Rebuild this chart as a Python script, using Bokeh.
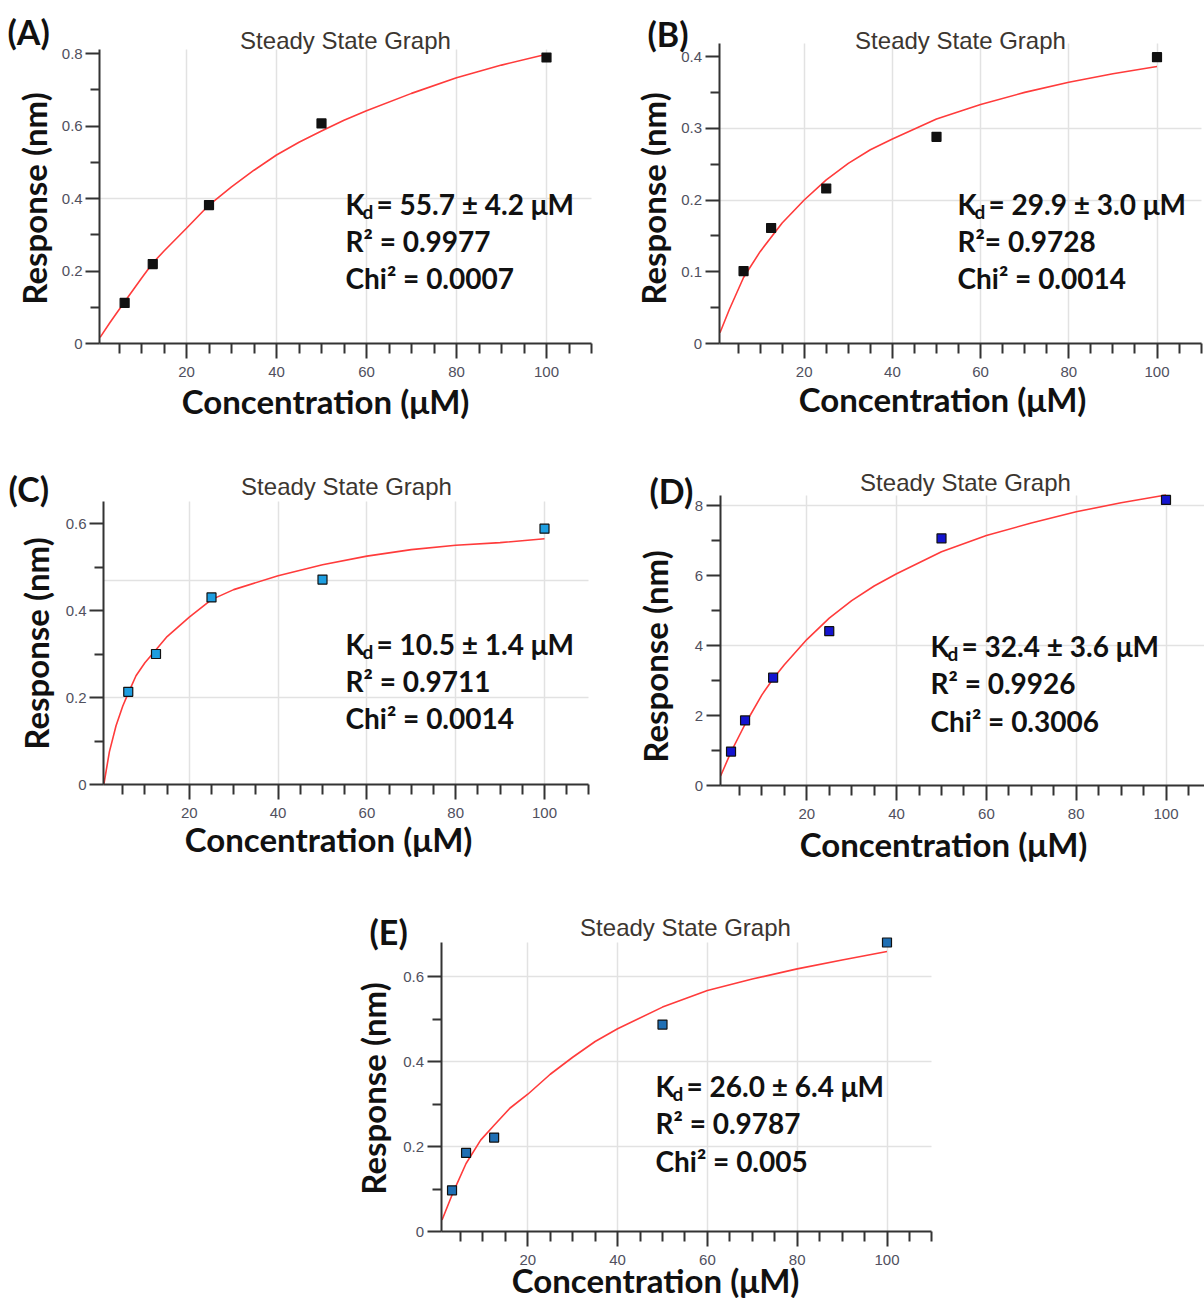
import math
from bokeh.plotting import figure
from bokeh.models import Range1d, FixedTicker, Label, Spacer, NumeralTickFormatter
from bokeh.layouts import row, column
from bokeh.embed import file_html
from bokeh.resources import INLINE

# ---------------- data ----------------
conc_a = [6.25, 12.5, 25, 50, 100]
resp_a = [0.112, 0.219, 0.382, 0.607, 0.789]
fit_x_a = [0.8, 3, 6.25, 10, 12.5, 15, 20, 25, 30, 35, 40, 45, 50, 55, 60, 70, 80, 90, 100]
fit_y_a = [0.017, 0.058, 0.115, 0.18, 0.222, 0.255, 0.318, 0.382, 0.432, 0.478, 0.52, 0.555, 0.586, 0.616, 0.642, 0.69, 0.733, 0.768, 0.798]

conc_b = [6.25, 12.5, 25, 50, 100]
resp_b = [0.101, 0.161, 0.216, 0.288, 0.399]
fit_x_b = [0.9, 3, 6.25, 10, 15, 20, 25, 30, 35, 40, 50, 60, 70, 80, 90, 100]
fit_y_b = [0.015, 0.047, 0.092, 0.128, 0.168, 0.200, 0.228, 0.251, 0.27, 0.285, 0.313, 0.333, 0.350, 0.364, 0.376, 0.386]

conc_c = [6.25, 12.5, 25, 50, 100]
resp_c = [0.213, 0.300, 0.430, 0.471, 0.588]
fit_x_c = [0.75, 2, 3.5, 5, 6.25, 8, 10, 12.5, 15, 20, 25, 30, 40, 50, 60, 70, 80, 90, 100]
fit_y_c = [0.0, 0.075, 0.135, 0.18, 0.21, 0.25, 0.28, 0.31, 0.34, 0.385, 0.425, 0.448, 0.48, 0.505, 0.525, 0.54, 0.55, 0.556, 0.565]

conc_d = [3.125, 6.25, 12.5, 25, 50, 100]
resp_d = [0.97, 1.86, 3.08, 4.41, 7.06, 8.16]
fit_x_d = [0.8, 3.125, 6.25, 10, 12.5, 15, 20, 25, 30, 35, 40, 50, 60, 70, 80, 90, 100]
fit_y_d = [0.27, 0.96, 1.75, 2.59, 3.05, 3.45, 4.17, 4.78, 5.28, 5.7, 6.05, 6.68, 7.14, 7.5, 7.82, 8.08, 8.30]

conc_e = [3.125, 6.25, 12.5, 50, 100]
resp_e = [0.097, 0.185, 0.221, 0.487, 0.680]
fit_x_e = [0.9, 3.125, 6.25, 9.5, 12.5, 16, 20, 25, 30, 35, 40, 50, 60, 70, 80, 90, 100]
fit_y_e = [0.027, 0.086, 0.16, 0.215, 0.25, 0.29, 0.323, 0.37, 0.41, 0.447, 0.477, 0.528, 0.567, 0.594, 0.618, 0.639, 0.659]

x_major = [20, 40, 60, 80, 100]
x_minor = [5, 10, 15, 25, 30, 35, 45, 50, 55, 65, 70, 75, 85, 90, 95, 105, 110]

letters = ["(A)", "(B)", "(C)", "(D)", "(E)"]
kd_texts = ["= 55.7 \u00b1 4.2 \u03bcM", "= 29.9 \u00b1 3.0 \u03bcM", "= 10.5 \u00b1 1.4 \u03bcM",
            "= 32.4 \u00b1 3.6 \u03bcM", "= 26.0 \u00b1 6.4 \u03bcM"]
r2_texts = ["R\u00b2 = 0.9977", "R\u00b2= 0.9728", "R\u00b2 = 0.9711", "R\u00b2 = 0.9926", "R\u00b2 = 0.9787"]
chi_texts = ["Chi\u00b2 = 0.0007", "Chi\u00b2 = 0.0014", "Chi\u00b2 = 0.0014", "Chi\u00b2 = 0.3006", "Chi\u00b2 = 0.005"]

TITLE = "Steady State Graph"
XLAB = "Concentration (\u03bcM)"
YLAB = "Response (nm)"

BOLD = "Lato"
AX = "#333333"
GRID = "#e2e2e2"


def panel(cfg, cx, cy, fx, fy, k):
    w, h = cfg["w"], cfg["h"]
    x0, xs, y0, ys = cfg["x0"], cfg["xs"], cfg["y0"], cfg["ys"]
    ytop, xend = cfg["ytop"], 110
    p = figure(width=w, height=h, title=None,
               x_range=Range1d(-x0 / xs, (w - x0) / xs),
               y_range=Range1d(-(h - y0) / ys, y0 / ys),
               min_border=0, min_border_left=0, min_border_right=0,
               min_border_top=0, min_border_bottom=0,
               output_backend="svg", toolbar_location=None)
    p.outline_line_color = None
    p.background_fill_color = "white"
    p.border_fill_color = "white"

    p.xaxis.fixed_location = 0
    p.yaxis.fixed_location = 0.7
    p.xaxis.bounds = (0.7, xend)
    p.yaxis.bounds = (0, ytop)
    p.xaxis.ticker = FixedTicker(ticks=x_major, minor_ticks=x_minor)
    p.yaxis.ticker = FixedTicker(ticks=cfg["y_major"], minor_ticks=cfg["y_minor"])
    p.yaxis.formatter = NumeralTickFormatter(format="0.[0]")
    p.xaxis.formatter = NumeralTickFormatter(format="0")
    for ax in (p.xaxis, p.yaxis):
        ax.axis_line_color = AX
        ax.axis_line_width = 2
        ax.major_tick_line_color = AX
        ax.minor_tick_line_color = AX
        ax.major_tick_line_width = 2
        ax.minor_tick_line_width = 2
        ax.major_tick_in = 0
        ax.minor_tick_in = 0
        ax.major_label_text_font = "Liberation Sans"
        ax.major_label_text_font_size = "15px"
        ax.major_label_text_color = "#50505e"
    p.xaxis.major_tick_out = 15
    p.xaxis.minor_tick_out = 10
    p.xaxis.major_label_standoff = 8
    p.yaxis.major_tick_out = 14
    p.yaxis.minor_tick_out = 9
    p.yaxis.major_label_standoff = 3

    xg = p.xgrid[0]
    yg = p.ygrid[0]
    if "cross_bounds" in xg.properties():
        xg.ticker = FixedTicker(ticks=x_major)
        yg.ticker = FixedTicker(ticks=cfg["ygrid"])
        xg.cross_bounds = (0, ytop)
        yg.cross_bounds = (0.7, xend)
        for g in (xg, yg):
            g.grid_line_color = GRID
            g.grid_line_width = 1.5
    else:
        xg.visible = False
        yg.visible = False
        p.segment(x0=x_major, y0=[0] * len(x_major), x1=x_major, y1=[ytop] * len(x_major),
                  line_color=GRID, line_width=1.5)
        gy = cfg["ygrid"]
        p.segment(x0=[0.7] * len(gy), y0=gy, x1=[xend] * len(gy), y1=gy,
                  line_color=GRID, line_width=1.5)

    p.line(fx, fy, line_color="#ff3b3b", line_width=1.6)
    p.scatter(cx, cy, marker="square", size=9, fill_color=cfg["fill"],
              line_color="#111111", line_width=1.2)

    def lab(x, ytop_px, text, size, font=BOLD, style="bold", align="left",
            color="#111111", angle=0.0):
        p.add_layout(Label(x=x, y=h - ytop_px, x_units="screen", y_units="screen", text=text,
                           text_font=font, text_font_style=style, text_font_size=f"{size}px",
                           text_align=align, text_baseline="middle", text_color=color,
                           angle=angle))

    t = cfg["lab"]
    lab(t["title"][0], t["title"][1], TITLE, 24, font="Liberation Sans", style="normal",
        align="center", color="#3c3630")
    lab(t["letter"][0], t["letter"][1], letters[k], 34)
    lab(t["ylab"][0], t["ylab"][1], YLAB, 33, align="center", angle=math.pi / 2)
    lab(t["xlab"][0], t["xlab"][1], XLAB, 33, align="center")
    ax_, yy = t["ann"]
    lab(ax_, yy[0], "K", 28)
    lab(ax_ + 17, yy[0] + 8, "d", 19)
    lab(ax_ + 31, yy[0], kd_texts[k], 28)
    lab(ax_, yy[1], r2_texts[k], 28)
    lab(ax_, yy[2], chi_texts[k], 28)
    return p


cfg_a = dict(w=600, h=445, x0=96, xs=4.5, y0=343, ys=362.5, ytop=0.81,
             y_major=[0, 0.2, 0.4, 0.6, 0.8], y_minor=[0.1, 0.3, 0.5, 0.7], ygrid=[0.4],
             fill="#111111",
             lab=dict(title=(345, 40), letter=(7, 31), ylab=(33, 198), xlab=(325, 400),
                      ann=(345, (203, 240, 277))))
cfg_b = dict(w=604, h=445, x0=115.5, xs=4.41, y0=343, ys=717.5, ytop=0.418,
             y_major=[0, 0.1, 0.2, 0.3, 0.4], y_minor=[0.05, 0.15, 0.25, 0.35], ygrid=[0.2, 0.3],
             fill="#111111",
             lab=dict(title=(360, 40), letter=(47, 33), ylab=(52, 198), xlab=(342, 398),
                      ann=(357, (203, 240, 277))))
cfg_c = dict(w=600, h=440, x0=100, xs=4.44, y0=339, ys=435, ytop=0.65,
             y_major=[0, 0.2, 0.4, 0.6], y_minor=[0.1, 0.3, 0.5], ygrid=[0.2, 0.47],
             fill="#1e9ee0",
             lab=dict(title=(346, 41), letter=(8, 43), ylab=(35, 198), xlab=(328, 393),
                      ann=(345, (198, 235, 272))))
cfg_d = dict(w=604, h=440, x0=116.5, xs=4.49, y0=340, ys=35, ytop=8.28,
             y_major=[0, 2, 4, 6, 8], y_minor=[1, 3, 5, 7], ygrid=[4, 8],
             fill="#1414d0",
             lab=dict(title=(365, 37), letter=(49, 45), ylab=(54, 211), xlab=(343, 398),
                      ann=(330, (200, 237, 275))))
cfg_e = dict(w=600, h=413, x0=97.5, xs=4.49, y0=346, ys=425, ytop=0.68,
             y_major=[0, 0.2, 0.4, 0.6], y_minor=[0.1, 0.3, 0.5], ygrid=[0.2, 0.4, 0.6],
             fill="#1f6fb4",
             lab=dict(title=(345, 42), letter=(29, 46), ylab=(32, 203), xlab=(315, 394),
                      ann=(315, (200, 237, 275))))

pa = panel(cfg_a, conc_a, resp_a, fit_x_a, fit_y_a, 0)
pb = panel(cfg_b, conc_b, resp_b, fit_x_b, fit_y_b, 1)
pc = panel(cfg_c, conc_c, resp_c, fit_x_c, fit_y_c, 2)
pd_ = panel(cfg_d, conc_d, resp_d, fit_x_d, fit_y_d, 3)
pe = panel(cfg_e, conc_e, resp_e, fit_x_e, fit_y_e, 4)

layout = column(row(pa, pb), row(pc, pd_), row(Spacer(width=340, height=413), pe))

open("out.html", "w").write(file_html(layout, INLINE))
